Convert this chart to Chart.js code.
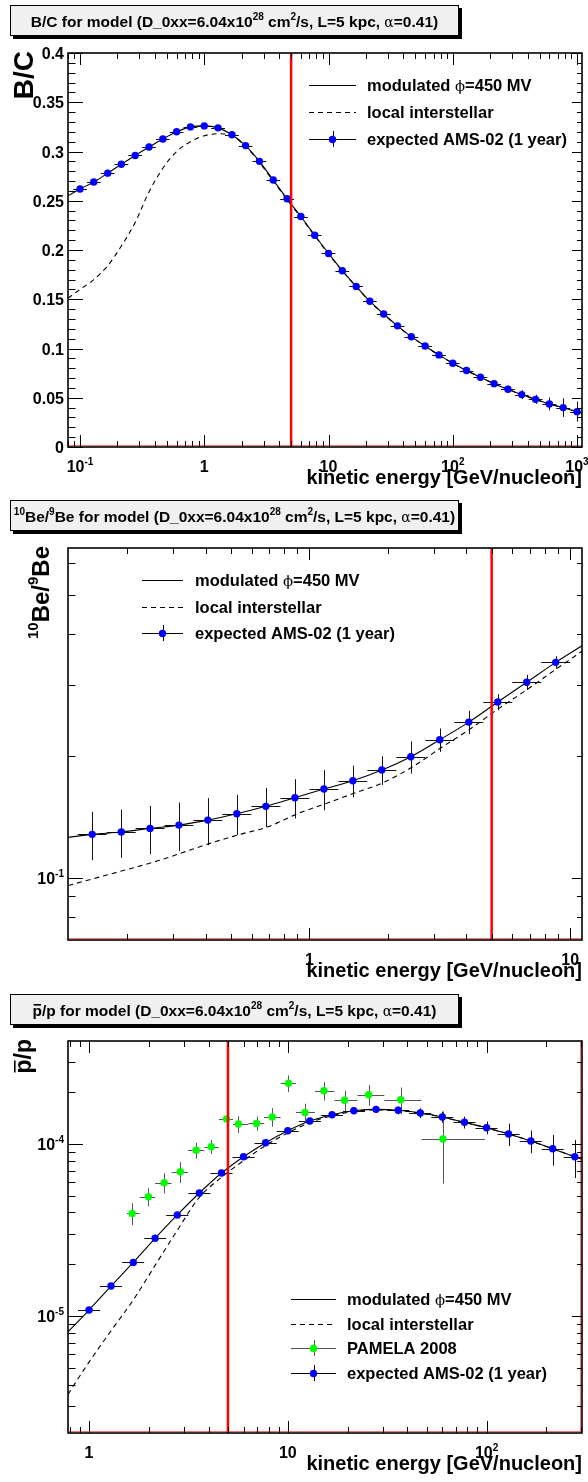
<!DOCTYPE html>
<html>
<head>
<meta charset="utf-8">
<script src="https://cdn.jsdelivr.net/npm/chart.js@4.4.1/dist/chart.umd.min.js"></script>
<style>
  html, body { margin: 0; padding: 0; background: #fff; }
  canvas { display: block; }
</style>
</head>
<body>
<canvas id="bc" width="588" height="494" style="width:588px;height:494px"></canvas>
<canvas id="be" width="588" height="494" style="width:588px;height:494px"></canvas>
<canvas id="pbar" width="588" height="494" style="width:588px;height:494px"></canvas>
<script>
// solar modulation cut shown on every panel (GeV/nucleon)
const cutoffEnergy = 5;

// ---- B/C ----
const bcEnergy = [0.1, 0.129, 0.167, 0.215, 0.278, 0.359, 0.464, 0.599, 0.774, 1, 1.29, 1.67, 2.15, 2.78, 3.59, 4.64, 5.99, 7.74, 10, 12.9, 16.7, 21.5, 27.8, 35.9, 46.4, 59.9, 77.4, 100, 129, 167, 215, 278, 359, 464, 599, 774, 1000];
const bcAms = [0.262, 0.269, 0.278, 0.287, 0.296, 0.3045, 0.3127, 0.320, 0.325, 0.326, 0.324, 0.317, 0.306, 0.290, 0.271, 0.252, 0.234, 0.215, 0.1965, 0.179, 0.163, 0.148, 0.135, 0.123, 0.112, 0.1026, 0.0935, 0.085, 0.0776, 0.0708, 0.0643, 0.0586, 0.0532, 0.0484, 0.0437, 0.040, 0.0359];
const bcAmsErr = [0.0012, 0.0012, 0.0012, 0.0012, 0.0012, 0.0012, 0.0012, 0.0012, 0.0012, 0.0012, 0.0012, 0.0012, 0.0012, 0.0012, 0.0012, 0.0012, 0.0012, 0.0012, 0.0012, 0.0012, 0.0015, 0.0015, 0.0015, 0.0015, 0.0015, 0.0018, 0.002, 0.002, 0.0025, 0.003, 0.003, 0.0037, 0.0045, 0.0046, 0.0065, 0.0095, 0.0102];
const bcCurveEnergy = [0.08, 0.1, 0.129, 0.167, 0.215, 0.278, 0.359, 0.464, 0.599, 0.774, 1, 1.29, 1.67, 2.15, 2.78, 3.59, 4.64, 5.99, 7.74, 10, 12.9, 16.7, 21.5, 27.8, 35.9, 46.4, 59.9, 77.4, 100, 129, 167, 215, 278, 359, 464, 599, 774, 1000, 1100];
const bcModulated = [0.255, 0.262, 0.269, 0.278, 0.287, 0.296, 0.3045, 0.3127, 0.320, 0.325, 0.326, 0.324, 0.317, 0.306, 0.290, 0.271, 0.252, 0.234, 0.215, 0.1965, 0.179, 0.163, 0.148, 0.135, 0.123, 0.112, 0.1026, 0.0935, 0.085, 0.0776, 0.0708, 0.0643, 0.0586, 0.0532, 0.0484, 0.0437, 0.040, 0.0359, 0.0345];
const bcInterstellar = [0.151, 0.160, 0.170, 0.184, 0.204, 0.228, 0.259, 0.283, 0.300, 0.310, 0.316, 0.318, 0.316, 0.305, 0.289, 0.270, 0.251, 0.2332, 0.2145, 0.196, 0.1788, 0.1627, 0.1478, 0.1347, 0.1228, 0.1118, 0.1024, 0.0933, 0.0849, 0.0775, 0.0707, 0.0642, 0.0585, 0.0531, 0.0483, 0.0436, 0.0399, 0.0358, 0.0344];
const bcXTicks = [0.1, 1, 10, 100, 1000];
const bcXLabels = ['10^{-1}', '1', '10', '10^{2}', '10^{3}'];
const bcYTicks = [0, 0.05, 0.1, 0.15, 0.2, 0.25, 0.3, 0.35, 0.4];
const bcYLabels = ['0', '0.05', '0.1', '0.15', '0.2', '0.25', '0.3', '0.35', '0.4'];
const bcLegend = ['modulated #phi=450 MV', 'local interstellar', 'expected AMS-02 (1 year)'];

// ---- 10Be/9Be ----
const beEnergy = [0.147, 0.190, 0.245, 0.316, 0.408, 0.527, 0.681, 0.880, 1.137, 1.468, 1.896, 2.448, 3.162, 4.084, 5.275, 6.813, 8.799];
const beAms = [0.128, 0.1297, 0.1324, 0.1349, 0.1388, 0.1439, 0.1501, 0.1576, 0.1656, 0.1736, 0.1845, 0.199, 0.2191, 0.2423, 0.2716, 0.3038, 0.3403];
const beAmsErr = [0.0175, 0.0177, 0.018, 0.0185, 0.0185, 0.0163, 0.0166, 0.0175, 0.0188, 0.0156, 0.015, 0.018, 0.0146, 0.016, 0.0124, 0.013, 0.012];
const beCurveEnergy = [0.119, 0.147, 0.190, 0.245, 0.316, 0.408, 0.527, 0.681, 0.880, 1.137, 1.468, 1.896, 2.448, 3.162, 4.084, 5.275, 6.813, 8.799, 11.1];
const beModulated = [0.1258, 0.128, 0.1297, 0.1324, 0.1349, 0.1388, 0.1439, 0.1501, 0.1576, 0.1656, 0.1736, 0.1845, 0.199, 0.2191, 0.2423, 0.2716, 0.3038, 0.3403, 0.374];
const beLisEnergy = [0.119, 0.176, 0.262, 0.416, 0.542, 0.694, 0.889, 1.16, 1.48, 1.91, 2.49, 3.24, 4.16, 5.33, 6.95, 8.91, 11.1];
const beInterstellar = [0.0957, 0.1025, 0.1101, 0.1216, 0.128, 0.1336, 0.1434, 0.1526, 0.1616, 0.1716, 0.188, 0.2106, 0.2336, 0.262, 0.2936, 0.3289, 0.3625];
const beXTicks = [1, 10];
const beXLabels = ['1', '10'];
const beYTicks = [0.1];
const beYLabels = ['10^{-1}'];
const beLegend = ['modulated #phi=450 MV', 'local interstellar', 'expected AMS-02 (1 year)'];

// ---- pbar/p ----
const pbEnergy = [1, 1.29, 1.67, 2.15, 2.78, 3.59, 4.64, 5.99, 7.74, 10, 12.9, 16.7, 21.5, 27.8, 35.9, 46.4, 59.9, 77.4, 100, 129, 167, 215, 278];
const pbAms = [1.084e-5, 1.494e-5, 2.05e-5, 2.83e-5, 3.87e-5, 5.19e-5, 6.78e-5, 8.44e-5, 1.018e-4, 1.195e-4, 1.36e-4, 1.48e-4, 1.56e-4, 1.59e-4, 1.57e-4, 1.514e-4, 1.435e-4, 1.337e-4, 1.244e-4, 1.143e-4, 1.041e-4, 9.39e-5, 8.44e-5];
const pbAmsErr = [2e-7, 3e-7, 4e-7, 6e-7, 8e-7, 1.0e-6, 1.4e-6, 1.8e-6, 2.5e-6, 3.5e-6, 4.5e-6, 5.5e-6, 6.5e-6, 7.5e-6, 8.5e-6, 1.0e-5, 1.05e-5, 1.07e-5, 1.07e-5, 1.7e-5, 1.57e-5, 1.9e-5, 2.1e-5];
const pbCurveEnergy = [0.784, 1, 1.29, 1.67, 2.15, 2.78, 3.59, 4.64, 5.99, 7.74, 10, 12.9, 16.7, 21.5, 27.8, 35.9, 46.4, 59.9, 77.4, 100, 129, 167, 215, 278, 302];
const pbModulated = [8.1e-6, 1.084e-5, 1.494e-5, 2.05e-5, 2.83e-5, 3.87e-5, 5.19e-5, 6.78e-5, 8.44e-5, 1.018e-4, 1.195e-4, 1.36e-4, 1.48e-4, 1.56e-4, 1.59e-4, 1.57e-4, 1.514e-4, 1.435e-4, 1.337e-4, 1.244e-4, 1.143e-4, 1.041e-4, 9.39e-5, 8.44e-5, 8.2e-5];
const pbLisEnergy = [0.784, 0.85, 1, 1.29, 1.67, 2.15, 2.78, 3.59, 4.64, 5.99, 7.74, 10, 12.9, 16.7, 21.5, 27.8, 35.9, 46.4, 59.9, 77.4, 100, 129, 167, 215, 278, 302];
const pbInterstellar = [3.5e-6, 4.06e-6, 5.4e-6, 8.2e-6, 1.24e-5, 1.97e-5, 3.15e-5, 4.9e-5, 6.4e-5, 8.0e-5, 9.8e-5, 1.16e-4, 1.33e-4, 1.46e-4, 1.545e-4, 1.58e-4, 1.565e-4, 1.51e-4, 1.432e-4, 1.335e-4, 1.242e-4, 1.142e-4, 1.04e-4, 9.38e-5, 8.43e-5, 8.19e-5];
const pamelaEnergy = [1.65, 1.99, 2.39, 2.88, 3.46, 4.12, 4.92, 5.64, 6.96, 8.35, 10.08, 12.2, 15.2, 19.3, 25.5, 37.0, 60.3];
const pamelaRatio = [3.95e-5, 4.94e-5, 5.96e-5, 6.9e-5, 9.19e-5, 9.65e-5, 1.397e-4, 1.306e-4, 1.318e-4, 1.436e-4, 2.255e-4, 1.527e-4, 2.04e-4, 1.795e-4, 1.935e-4, 1.81e-4, 1.069e-4];
const pamelaErr = [5.7e-6, 6.0e-6, 8.0e-6, 9.7e-6, 9.8e-6, 9.0e-6, 1.62e-5, 1.45e-5, 1.24e-5, 1.77e-5, 2.5e-5, 1.88e-5, 2.5e-5, 2.48e-5, 2.67e-5, 3.2e-5, 4.8e-5];
const pamelaBinEdges = [1.55, 1.8, 2.15, 2.6, 3.15, 3.8, 4.5, 5.3, 6.35, 7.6, 9.2, 11.0, 13.7, 17.2, 22.4, 30.6, 47, 98];
const pbXTicks = [1, 10, 100];
const pbXLabels = ['1', '10', '10^{2}'];
const pbYTicks = [1e-5, 1e-4];
const pbYLabels = ['10^{-5}', '10^{-4}'];
const pbLegend = ['modulated #phi=450 MV', 'local interstellar', 'PAMELA 2008', 'expected AMS-02 (1 year)'];

const FONT = '"Liberation Sans", Arial, Helvetica, sans-serif';

// tiny ROOT-like markup: ^{sup}, #alpha, #phi, #bar{x}
function parseRich(str) {
  const re = /\^\{([^}]*)\}|#(alpha|phi)|#bar\{([^}]*)\}|([^^#]+)/g;
  const out = [];
  let m;
  while ((m = re.exec(str))) {
    if (m[1] !== undefined) out.push({ text: m[1], kind: 'sup' });
    else if (m[2]) out.push({ text: m[2] === 'alpha' ? '\u03b1' : '\u03d5', kind: 'greek' });
    else if (m[3] !== undefined) out.push({ text: m[3], kind: 'bar' });
    else out.push({ text: m[4], kind: 'n' });
  }
  return out;
}

function segFont(kind, size) {
  if (kind === 'sup') return `bold ${Math.round(size * 0.62)}px ${FONT}`;
  if (kind === 'greek') return `${size}px "DejaVu Serif", "Liberation Serif", serif`;
  return `bold ${size}px ${FONT}`;
}

function drawRich(ctx, str, x, y, size, align) {
  const segs = parseRich(str);
  let total = 0;
  segs.forEach(s => {
    ctx.font = segFont(s.kind, s.kind === 'greek' ? size * 0.9 : size);
    s.w = ctx.measureText(s.text).width;
    total += s.w;
  });
  let cx = align === 'right' ? x - total : align === 'center' ? x - total / 2 : x;
  ctx.textAlign = 'left';
  ctx.textBaseline = 'alphabetic';
  ctx.fillStyle = '#000';
  segs.forEach(s => {
    ctx.font = segFont(s.kind, s.kind === 'greek' ? size * 0.9 : size);
    const dy = s.kind === 'sup' ? -size * 0.45 : 0;
    ctx.fillText(s.text, cx, y + dy);
    if (s.kind === 'bar') ctx.fillRect(cx + 1, y - size * 0.74, s.w - 2, 1.6);
    cx += s.w;
  });
  return total;
}

function logTickValues(min, max) {
  const out = [];
  for (let e = Math.floor(Math.log10(min)); e <= Math.ceil(Math.log10(max)); e++) {
    for (let m = 1; m < 10; m++) {
      const v = m * Math.pow(10, e);
      if (v >= min * 0.999 && v <= max * 1.001) out.push({ v, major: m === 1 });
    }
  }
  return out;
}

function linTickValues(min, max, step, every) {
  const out = [];
  for (let i = Math.ceil(min / step - 1e-6); i * step <= max + 1e-9; i++) {
    out.push({ v: i * step, major: i % every === 0 });
  }
  return out;
}

// log-bin edges halfway (geometrically) between neighbouring points
function binEdges(xs) {
  return xs.map((x, i) => {
    const prev = i > 0 ? xs[i - 1] : x * x / xs[i + 1];
    const next = i < xs.length - 1 ? xs[i + 1] : x * x / xs[i - 1];
    return [Math.sqrt(prev * x), Math.sqrt(x * next)];
  });
}

function curve(xs, ys, dash) {
  return {
    data: xs.map((x, i) => ({ x, y: ys[i] })),
    showLine: true,
    borderColor: '#000',
    borderWidth: 1.1,
    borderDash: dash || [],
    pointRadius: 0,
    cubicInterpolationMode: 'monotone',
    order: 3
  };
}

function markers(xs, ys, errs, color, edges, barColor) {
  return {
    data: xs.map((x, i) => ({ x, y: ys[i] })),
    showLine: false,
    pointRadius: 3.7,
    pointBackgroundColor: color,
    pointBorderColor: color,
    pointBorderWidth: 0,
    order: 1,
    errY: errs,
    edges: edges,
    barColor: barColor
  };
}

function drawErrorBars(chart) {
  const ctx = chart.ctx, a = chart.chartArea;
  const xs = chart.scales.x, ys = chart.scales.y;
  ctx.save();
  ctx.beginPath();
  ctx.rect(a.left, a.top, a.right - a.left, a.bottom - a.top);
  ctx.clip();
  ctx.lineWidth = 1;
  ctx.setLineDash([]);
  chart.data.datasets.forEach(ds => {
    if (!ds.errY) return;
    ctx.strokeStyle = ds.barColor;
    ctx.beginPath();
    ds.data.forEach((p, i) => {
      const px = xs.getPixelForValue(p.x), py = ys.getPixelForValue(p.y);
      const lo = ds.edges[i][0], hi = ds.edges[i][1];
      ctx.moveTo(xs.getPixelForValue(lo), Math.round(py) + 0.5);
      ctx.lineTo(xs.getPixelForValue(hi), Math.round(py) + 0.5);
      const e = ds.errY[i];
      const yb = p.y - e > 0 ? ys.getPixelForValue(p.y - e) : a.bottom;
      ctx.moveTo(Math.round(px) + 0.5, ys.getPixelForValue(p.y + e));
      ctx.lineTo(Math.round(px) + 0.5, yb);
    });
    ctx.stroke();
  });
  ctx.restore();
}

function drawLegend(ctx, p) {
  const L = p.legend;
  L.rows.forEach((y, i) => {
    const ent = L.entries[i];
    ctx.save();
    ctx.lineWidth = 1;
    ctx.strokeStyle = ent.lineColor || '#000';
    ctx.setLineDash(ent.dash || []);
    ctx.beginPath();
    ctx.moveTo(L.x0, y + 0.5);
    ctx.lineTo(L.x1, y + 0.5);
    ctx.stroke();
    if (ent.marker) {
      const cx = (L.x0 + L.x1) / 2;
      ctx.beginPath();
      ctx.moveTo(Math.round(cx) + 0.5, y - 8);
      ctx.lineTo(Math.round(cx) + 0.5, y + 8);
      ctx.stroke();
      ctx.fillStyle = ent.marker;
      ctx.beginPath();
      ctx.arc(cx, y + 0.5, 3.7, 0, Math.PI * 2);
      ctx.fill();
    }
    ctx.restore();
    drawRich(ctx, ent.label, L.xt, y + 6, 16.5, 'left');
  });
}

function rootPad(p) {
  return {
    id: 'rootPad',
    beforeDraw(chart) {
      const ctx = chart.ctx;
      ctx.save();
      ctx.fillStyle = '#fff';
      ctx.fillRect(0, 0, chart.width, chart.height);
      ctx.restore();
    },
    beforeDatasetsDraw(chart) {
      drawErrorBars(chart);
    },
    afterDatasetsDraw(chart) {
      const ctx = chart.ctx, a = chart.chartArea;
      const xs = chart.scales.x, ys = chart.scales.y;
      ctx.save();
      ctx.setLineDash([]);

      // cutoff marker
      const rx = xs.getPixelForValue(cutoffEnergy);
      ctx.strokeStyle = '#ff0000';
      ctx.lineWidth = 2.5;
      ctx.beginPath();
      ctx.moveTo(rx, a.top);
      ctx.lineTo(rx, a.bottom);
      ctx.stroke();

      // faint red histogram edge along the bottom
      ctx.strokeStyle = 'rgba(255,0,0,0.55)';
      ctx.lineWidth = 1;
      ctx.beginPath();
      ctx.moveTo(a.left, a.bottom - 1.5);
      ctx.lineTo(a.right, a.bottom - 1.5);
      if (p.redRight) {
        ctx.moveTo(a.right - 1.5, a.top);
        ctx.lineTo(a.right - 1.5, a.bottom);
      }
      ctx.stroke();

      // frame
      ctx.strokeStyle = '#000';
      ctx.lineWidth = 1.6;
      ctx.strokeRect(a.left, a.top, a.right - a.left, a.bottom - a.top);

      // ticks on all four sides, pointing inwards
      ctx.lineWidth = 1;
      ctx.beginPath();
      logTickValues(xs.min, xs.max).forEach(t => {
        const px = Math.round(xs.getPixelForValue(t.v)) + 0.5;
        const len = t.major ? 12 : 6;
        ctx.moveTo(px, a.bottom);
        ctx.lineTo(px, a.bottom - len);
        ctx.moveTo(px, a.top);
        ctx.lineTo(px, a.top + len);
      });
      const yt = p.yLog ? logTickValues(ys.min, ys.max) : linTickValues(ys.min, ys.max, 0.01, 5);
      yt.forEach(t => {
        const py = Math.round(ys.getPixelForValue(t.v)) + 0.5;
        ctx.moveTo(a.left, py);
        ctx.lineTo(a.left + (t.major ? 15 : 7.5), py);
        ctx.moveTo(a.right, py);
        ctx.lineTo(a.right - (t.major ? 10 : 5), py);
      });
      ctx.stroke();

      // tick labels
      p.xTicks.forEach((v, i) => {
        drawRich(ctx, p.xLabels[i], xs.getPixelForValue(v), a.bottom + 25, 16, 'center');
      });
      p.yTicks.forEach((v, i) => {
        drawRich(ctx, p.yLabels[i], a.left - 4, ys.getPixelForValue(v) + 6, 16, 'right');
      });

      // axis titles
      drawRich(ctx, 'kinetic energy [GeV/nucleon]', a.right, a.bottom + 37, 20, 'right');
      ctx.save();
      ctx.translate(p.yTitleX, a.top - 2);
      ctx.rotate(-Math.PI / 2);
      drawRich(ctx, p.yTitle, 0, 0, p.yTitleSize, 'right');
      ctx.restore();

      // title pave with shadow
      const bx = 10, by = p.boxTop, bw = 449, bh = 31;
      ctx.fillStyle = '#000';
      ctx.fillRect(bx + 3, by + bh, bw, 3);
      ctx.fillRect(bx + bw, by + 3, 3, bh);
      ctx.fillStyle = '#f0f0f0';
      ctx.fillRect(bx, by, bw, bh);
      ctx.strokeStyle = '#000';
      ctx.lineWidth = 1;
      ctx.strokeRect(bx + 0.5, by + 0.5, bw - 1, bh - 1);
      drawRich(ctx, p.title, bx + bw / 2, by + 21.5, 15.5, 'center');

      drawLegend(ctx, p);
      ctx.restore();
    }
  };
}

function createPanel(elementId, p) {
  const ctx = document.getElementById(elementId);
  return new Chart(ctx, {
    type: 'scatter',
    data: { datasets: p.datasets },
    options: {
      responsive: false,
      devicePixelRatio: 1,
      animation: false,
      events: [],
      layout: { padding: p.padding },
      scales: {
        x: { type: 'logarithmic', min: p.xRange[0], max: p.xRange[1], display: false },
        y: { type: p.yLog ? 'logarithmic' : 'linear', min: p.yRange[0], max: p.yRange[1], display: false }
      },
      plugins: { legend: { display: false }, tooltip: { enabled: false } }
    },
    plugins: [rootPad(p)]
  });
}

createPanel('bc', {
  padding: { left: 68, right: 6, top: 53, bottom: 47 },
  xRange: [0.08, 1097],
  yRange: [0, 0.4],
  yLog: false,
  boxTop: 5,
  title: 'B/C for model (D_0xx=6.04x10^{28} cm^{2}/s, L=5 kpc, #alpha=0.41)',
  yTitle: 'B/C', yTitleX: 33, yTitleSize: 28,
  xTicks: bcXTicks, xLabels: bcXLabels, yTicks: bcYTicks, yLabels: bcYLabels,
  legend: {
    x0: 309, x1: 356, xt: 367, rows: [85, 112, 139],
    entries: [
      { label: bcLegend[0] },
      { label: bcLegend[1], dash: [5, 4] },
      { label: bcLegend[2], marker: '#0000ff' }
    ]
  },
  datasets: [
    markers(bcEnergy, bcAms, bcAmsErr, '#0000ff', binEdges(bcEnergy), '#111'),
    curve(bcCurveEnergy, bcModulated),
    curve(bcCurveEnergy, bcInterstellar, [5, 4])
  ]
});

createPanel('be', {
  padding: { left: 68, right: 6, top: 54, bottom: 48 },
  xRange: [0.1187, 11.1],
  yRange: [0.0702, 0.652],
  yLog: true,
  boxTop: 6,
  title: '^{10}Be/^{9}Be for model (D_0xx=6.04x10^{28} cm^{2}/s, L=5 kpc, #alpha=0.41)',
  yTitle: '^{10}Be/^{9}Be', yTitleX: 49, yTitleSize: 24,
  xTicks: beXTicks, xLabels: beXLabels, yTicks: beYTicks, yLabels: beYLabels,
  legend: {
    x0: 142, x1: 183, xt: 195, rows: [86, 113, 139],
    entries: [
      { label: beLegend[0] },
      { label: beLegend[1], dash: [5, 4] },
      { label: beLegend[2], marker: '#0000ff' }
    ]
  },
  datasets: [
    markers(beEnergy, beAms, beAmsErr, '#0000ff', binEdges(beEnergy), '#111'),
    curve(beCurveEnergy, beModulated),
    curve(beLisEnergy, beInterstellar, [5, 4])
  ]
});

createPanel('pbar', {
  padding: { left: 68, right: 6, top: 53, bottom: 49 },
  xRange: [0.784, 302],
  yRange: [2.09e-6, 3.97e-4],
  yLog: true,
  redRight: true,
  boxTop: 6,
  title: '#bar{p}/p for model (D_0xx=6.04x10^{28} cm^{2}/s, L=5 kpc, #alpha=0.41)',
  yTitle: '#bar{p}/p', yTitleX: 31, yTitleSize: 23,
  xTicks: pbXTicks, xLabels: pbXLabels, yTicks: pbYTicks, yLabels: pbYLabels,
  legend: {
    x0: 291, x1: 336, xt: 347, rows: [311, 336, 360, 385],
    entries: [
      { label: pbLegend[0] },
      { label: pbLegend[1], dash: [5, 4] },
      { label: pbLegend[2], marker: '#00ff00', lineColor: '#555' },
      { label: pbLegend[3], marker: '#0000ff' }
    ]
  },
  datasets: [
    markers(pbEnergy, pbAms, pbAmsErr, '#0000ff', binEdges(pbEnergy), '#111'),
    markers(pamelaEnergy, pamelaRatio, pamelaErr, '#00ff00',
      pamelaEnergy.map((e, i) => [pamelaBinEdges[i], pamelaBinEdges[i + 1]]), '#555'),
    curve(pbCurveEnergy, pbModulated),
    curve(pbLisEnergy, pbInterstellar, [5, 4])
  ]
});
</script>
</body>
</html>
